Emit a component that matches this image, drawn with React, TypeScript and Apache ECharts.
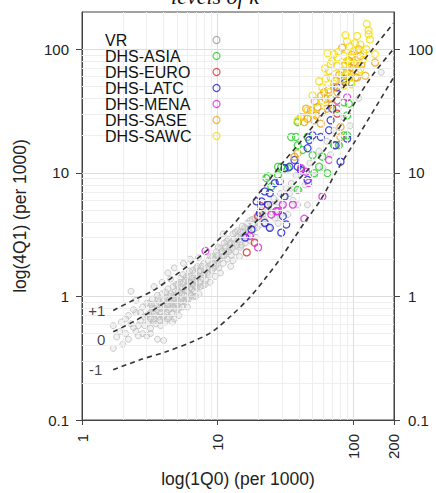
import React, { useEffect, useRef } from "react";
import * as echarts from "echarts";

// ---- tick / grid values ----
const xTickValues = [1, 10, 100, 200];
const yTickValues = [0.1, 1, 10, 100];
const xMinorGrid = [2, 3, 4, 5, 6, 7, 8, 9, 20, 30, 40, 50, 60, 70, 80, 90];
const xMajorGrid = [10, 100];
const yMinorGrid = [0.2, 0.3, 0.4, 0.5, 0.6, 0.7, 0.8, 0.9, 2, 3, 4, 5, 6, 7, 8, 9, 20, 30, 40, 50, 60, 70, 80, 90];
const yMajorGrid = [1, 10, 100];

// ---- model curves for k = +1, 0, -1 ----
const curveKPlus1 = [[1.7, 0.77], [2.38, 0.93], [3.33, 1.11], [4.65, 1.43], [6.51, 1.88], [9.1, 2.56], [12.7, 3.7], [16.9, 5.33], [21.7, 7.57], [29.3, 11.6], [39.0, 16.7], [54.5, 26.5], [76.3, 42.2], [119, 80.4], [198, 162]];
const curveK0 = [[1.7, 0.517], [2.38, 0.622], [3.33, 0.771], [4.65, 0.987], [6.51, 1.3], [9.1, 1.77], [12.7, 2.56], [17.8, 3.7], [24.9, 5.36], [36.9, 8.15], [57.7, 13.9], [85.4, 26.5], [133, 57.7], [198, 100]];
const curveKMinus1 = [[1.7, 0.255], [2.66, 0.306], [4.17, 0.357], [6.51, 0.43], [9.1, 0.517], [12.7, 0.703], [16.9, 0.957], [22.3, 1.38], [29.5, 2.07], [36.9, 2.99], [43.6, 3.94], [57.7, 6.06], [76.3, 10.5], [101, 17.3], [198, 58.7]];
const curveLabels = ["+1", "0", "-1"];

// ---- observed points: [1Q0, 4Q1] per 1000 ----
const vrPoints = [
  [1.7, 0.58], [1.7, 0.38], [1.8, 0.47], [1.95, 0.62], [2.1, 0.5], [2.2, 0.7], [2.3, 1.1], [2.4, 0.56], [2.5, 0.74], [2.6, 0.48], [2.7, 0.64], [2.8, 0.82], [2.9, 0.58], [3.0, 0.7], [3.0, 0.48], [2.2, 0.45],
  [1.9, 0.52], [2.0, 0.41], [2.1, 0.66], [2.3, 0.6], [2.4, 0.78], [2.5, 0.52], [2.6, 0.58], [2.7, 0.74], [2.8, 0.5], [2.9, 0.68], [3.0, 0.88], [2.5, 0.93],
  [3.1, 0.62], [3.1, 0.88], [3.2, 0.74], [3.2, 0.55], [3.3, 0.8], [3.3, 0.95], [3.4, 0.66], [3.4, 0.72], [3.5, 0.86], [3.5, 0.6], [3.6, 0.78], [3.6, 1.02], [3.7, 0.68], [3.7, 0.9], [3.8, 0.74], [3.8, 0.58], [3.9, 0.84], [3.9, 1.05], [4.0, 0.7], [4.0, 0.92], [4.1, 0.8], [4.1, 0.62], [4.2, 0.98], [4.2, 0.74], [4.3, 0.86], [4.3, 1.15], [4.4, 0.68], [4.4, 0.94], [4.5, 0.8], [4.5, 1.05], [4.6, 0.72], [4.6, 0.9], [4.7, 1.2], [4.7, 0.84], [4.8, 0.98], [4.8, 0.66], [4.9, 0.88], [4.9, 1.1], [5.0, 0.78], [5.0, 1.0], [3.6, 0.45], [4.0, 0.44], [4.3, 1.55], [4.8, 1.7],
  [3.1, 0.72], [3.2, 0.66], [3.25, 0.86], [3.35, 0.62], [3.45, 0.8], [3.55, 0.7], [3.65, 0.95], [3.75, 0.64], [3.85, 0.8], [3.95, 0.68], [4.05, 0.86], [4.15, 1.08], [4.25, 0.66], [4.35, 0.78], [4.45, 1.0], [4.55, 0.88], [4.65, 0.62], [4.75, 1.02], [4.85, 0.8], [4.95, 1.25], [3.4, 1.2], [3.9, 1.3], [4.5, 1.38], [3.2, 0.5],
  [5.1, 0.92], [5.1, 1.25], [5.2, 0.8], [5.3, 1.08], [5.3, 1.4], [5.4, 0.95], [5.5, 1.15], [5.5, 0.82], [5.6, 1.3], [5.7, 1.02], [5.8, 1.2], [5.8, 0.9], [5.9, 1.45], [6.0, 1.1], [6.1, 0.95], [6.1, 1.3], [6.2, 1.6], [6.3, 1.18], [6.4, 1.02], [6.5, 1.4], [6.6, 1.25], [6.7, 1.1], [6.8, 1.55], [6.9, 1.32], [7.0, 1.18], [7.1, 1.75], [7.2, 1.45], [7.3, 1.05], [7.4, 1.3], [7.5, 1.62], [7.7, 1.4], [7.8, 1.22], [7.9, 1.85], [8.0, 1.55], [8.2, 1.35], [8.3, 1.7], [8.5, 1.95], [8.6, 1.5], [8.8, 1.3], [8.9, 1.8], [5.6, 1.85], [6.3, 2.0], [5.2, 0.7],
  [5.05, 0.86], [5.15, 1.1], [5.25, 1.3], [5.35, 0.9], [5.45, 1.05], [5.55, 1.5], [5.65, 0.92], [5.75, 1.12], [5.85, 1.35], [5.95, 0.95], [6.05, 1.22], [6.15, 1.45], [6.25, 1.05], [6.35, 1.3], [6.45, 1.15], [6.55, 1.62], [6.65, 1.0], [6.75, 1.35], [6.85, 1.2], [6.95, 1.7], [7.05, 1.4], [7.25, 1.6], [7.45, 1.2], [7.65, 1.75], [7.85, 1.5], [8.1, 1.25], [8.4, 1.55], [8.7, 1.7], [8.9, 2.1], [7.2, 2.05], [6.0, 0.82], [6.9, 1.0],
  [9.1, 1.62], [9.2, 2.1], [9.4, 1.85], [9.6, 1.45], [9.8, 2.3], [10.0, 1.95], [10.2, 1.7], [10.5, 2.45], [10.7, 2.1], [11.0, 1.85], [11.2, 2.7], [11.5, 2.3], [11.8, 2.0], [12.0, 2.9], [12.3, 2.5], [12.6, 2.15], [13.0, 3.2], [13.3, 2.7], [13.6, 2.3], [14.0, 3.4], [14.4, 2.9], [14.8, 2.5], [15.2, 3.7], [15.6, 3.1], [16.0, 2.7], [16.5, 3.9], [17.0, 3.3], [17.5, 2.8], [18.0, 4.2], [18.6, 3.5], [19.2, 3.0], [19.8, 4.5], [10.5, 1.55], [12.5, 1.75], [14.5, 2.1],
  [9.3, 1.7], [9.5, 2.0], [9.7, 1.75], [9.9, 2.15], [10.1, 2.5], [10.4, 2.0], [10.8, 2.3], [11.1, 2.1], [11.4, 2.5], [11.7, 2.8], [12.1, 2.3], [12.4, 2.7], [12.8, 2.45], [13.2, 2.9], [13.5, 3.3], [13.9, 2.6], [14.2, 3.0], [14.7, 3.3], [15.0, 2.6], [15.4, 3.3], [15.9, 3.6], [16.3, 3.0], [16.8, 3.5], [17.3, 4.1], [17.8, 3.2], [18.3, 3.8], [18.9, 4.3], [19.5, 3.6], [11.0, 3.2], [13.0, 1.95],
  [20.5, 3.8], [21, 5.0], [22, 4.2], [23, 5.5], [24, 3.6], [25, 4.8], [26, 6.2], [27, 5.0], [28, 3.9], [29, 6.8], [30, 5.4], [32, 7.5], [33, 4.6], [35, 8.2], [36, 6.0], [38, 9.5], [40, 7.2], [42, 11], [44, 8.0], [46, 5.5],
  [20.2, 4.2], [21.5, 4.6], [22.5, 3.8], [23.5, 4.9], [24.5, 5.6], [26.5, 4.3], [27.5, 5.8], [29.5, 4.6], [31, 6.4], [34, 6.8], [37, 7.5], [39, 5.5],
  [48, 12], [52, 9.5], [56, 15], [60, 11], [64, 18], [68, 14], [72, 22], [78, 17], [85, 28], [95, 24], [110, 40], [161, 65],
];
const asiaPoints = [[95.4, 53.9], [85.4, 37.2], [92.9, 36.2], [76.3, 33], [90.3, 29.1], [39, 25.7], [37.9, 19.5], [46.1, 19.5], [85.4, 20.1], [72.3, 16.7], [78.5, 16.7], [59.3, 13.5], [64.5, 9.93], [56.1, 11.2], [51.6, 9.93], [29.5, 11.2], [33, 10.9], [27.9, 9.62], [22.9, 9.05], [39, 7.29], [24.9, 7.75], [23.6, 9.33], [31.2, 10.9], [34.9, 19.5], [39, 16.7], [50.2, 13.9], [90.3, 20.1], [42.4, 15.3], [27.9, 11.2]];
const euroPoints = [[16.4, 2.27], [18.8, 2.72], [21, 5.36], [19.9, 4.45], [76.3, 30.1]];
const latcPoints = [[85.4, 57.4], [87.7, 53.9], [76.3, 49.1], [70.2, 33], [68.2, 26.6], [66.4, 22.1], [57.7, 19.5], [50.2, 20.1], [47.5, 18.4], [90.3, 18.9], [46.1, 15.8], [74.2, 16.7], [80.7, 12.3], [39, 11.2], [33.9, 11.2], [36.9, 12.7], [31.2, 10.9], [28.7, 8.5], [26.4, 8.25], [41.2, 10.5], [46.1, 8.77], [24.3, 6.86], [22.3, 7.07], [21.1, 5.87], [19.4, 5.87], [20.5, 4.74], [30.3, 4.45], [23.6, 5.53], [22.3, 3.94], [24.3, 3.59], [32.1, 3.82], [29.5, 3.28], [17.8, 3.48], [16, 2.99], [31.2, 6.44]];
const menaPoints = [[8.14, 2.33], [17.3, 3.08], [19.9, 2.49], [24.9, 4.6], [27.9, 4.89], [30.3, 5.53], [35.9, 5.53], [41.2, 10.9], [44.8, 10.2], [66.4, 12.7], [59.3, 6.44], [43.6, 4.25], [76.3, 38.4], [90.3, 40.8], [27.1, 4.89], [47, 8.3]];
const sasePoints = [[83, 103], [110, 99.8], [113, 88.2], [92.9, 80.4], [101, 78], [85.4, 73.3], [95.4, 71.1], [104, 59], [123, 61], [145, 78], [74.2, 55.6], [85.4, 55.6], [72.3, 49.1], [76.3, 44.8], [61.1, 44.8], [62.7, 39.7], [68.2, 39.7], [54.6, 34], [48.8, 31.9], [53.1, 29.1], [59.3, 31], [46.1, 27.4], [41.2, 28.2], [43.6, 25.7], [51.6, 26.6], [57.7, 25], [36.9, 13.5], [39, 14.4], [80.7, 23.5], [80.7, 19.5], [107, 59], [66, 47], [58, 42], [70, 36], [64, 33], [100, 70], [115, 75], [90, 65], [79, 62], [52, 38], [45, 33], [98, 90]];
const sawcPoints = [[126, 160], [130, 132], [87.7, 130], [107, 128], [133, 120], [64.5, 92.7], [72.3, 91], [85.4, 88.2], [101, 96.8], [119, 93.8], [145, 91], [68.2, 75.7], [76.3, 73.3], [90.3, 80.4], [107, 75.7], [66.4, 66.8], [74.2, 62.9], [83, 66.8], [95.4, 66.8], [113, 69], [68.2, 59], [80.7, 57.4], [92.9, 59], [72.3, 52.3], [85.4, 50.7], [59.3, 49.1], [66.4, 44.8], [50.2, 42.2], [53.1, 37.2], [59.3, 38.4], [46.1, 31.9], [50.2, 30.1], [43.6, 28.2], [39, 26.6], [76.3, 85.5], [87.7, 75.7], [98.2, 85.5], [113, 109], [130, 142], [90, 116], [62, 70], [70, 80], [78, 95], [95, 105], [103, 112], [118, 82], [125, 100], [56, 55], [63, 58], [97, 52], [110, 65], [88, 62]];

const groupNames = ["VR", "DHS-ASIA", "DHS-EURO", "DHS-LATC", "DHS-MENA", "DHS-SASE", "DHS-SAWC"];
const groupColors = ["#a8a8a8", "#22cc22", "#e02828", "#1c1cd8", "#dd22dd", "#eaa21a", "#f5dc00"];

const FONT = '"Liberation Sans", Arial, sans-serif';

export default function App() {
  const ref = useRef<HTMLDivElement>(null);
  useEffect(() => {
    document.body.style.margin = "0";
    if (!ref.current) return;
    const chart = echarts.init(ref.current, null, { renderer: "svg" });
    const fmt = (v: number) => {
      const r = Math.round(v * 1000) / 1000;
      return String(r);
    };
    const colored = [asiaPoints, euroPoints, latcPoints, menaPoints, sasePoints, sawcPoints];
    const series: any[] = [
      {
        type: "scatter",
        name: "__grid",
        data: [[1, 0.1]],
        symbolSize: 0,
        silent: true,
        z: 0,
        markLine: {
          silent: true,
          symbol: ["none", "none"],
          label: { show: false },
          animation: false,
          data: [
            ...xMinorGrid.map((v) => ({ xAxis: v, lineStyle: { color: "#eeeeee", width: 1, type: "solid" } })),
            ...yMinorGrid.map((v) => ({ yAxis: v, lineStyle: { color: "#eeeeee", width: 1, type: "solid" } })),
            ...xMajorGrid.map((v) => ({ xAxis: v, lineStyle: { color: "#dddddd", width: 1, type: "solid" } })),
            ...yMajorGrid.map((v) => ({ yAxis: v, lineStyle: { color: "#dddddd", width: 1, type: "solid" } })),
          ],
        },
      },
      {
        type: "scatter",
        name: groupNames[0],
        data: vrPoints,
        symbol: "circle",
        symbolSize: 6,
        z: 2,
        itemStyle: { color: "rgba(200,200,200,0.3)", borderColor: "#bdbdbd", borderWidth: 1 },
      },
      ...colored.map((pts, i) => ({
        type: "scatter",
        name: groupNames[i + 1],
        data: pts,
        symbol: "circle",
        symbolSize: 7,
        z: 3,
        itemStyle: { color: "rgba(0,0,0,0)", borderColor: groupColors[i + 1], borderWidth: 1.3 },
      })),
      ...[curveKPlus1, curveK0, curveKMinus1].map((c, i) => ({
        type: "line",
        name: "k" + curveLabels[i],
        data: c,
        showSymbol: false,
        smooth: 0.3,
        z: 5,
        lineStyle: { color: "#333333", width: 1.6, type: [5, 4] },
      })),
      {
        type: "scatter",
        name: "__labels",
        symbolSize: 0,
        silent: true,
        z: 6,
        data: [curveKPlus1[0], curveK0[0], curveKMinus1[0]].map((p, i) => ({
          value: [p[0], p[1]],
          label: {
            show: true,
            position: "left",
            distance: i === 2 ? 11 : 8,
            offset: i === 1 ? [0, 8] : [0, 0],
            formatter: curveLabels[i],
            fontSize: 15,
            color: "#111",
            fontFamily: FONT,
          },
        })),
      },
    ];

    const legendData = groupNames.map((n, i) => ({
      name: n,
      icon: "circle",
      itemStyle: { color: "rgba(0,0,0,0)", borderColor: i === 0 ? "#999999" : groupColors[i], borderWidth: 1.2 },
    }));

    chart.setOption({
      animation: false,
      textStyle: { fontFamily: FONT },
      grid: { left: 82, right: 39, top: 12, bottom: 71, show: true, borderColor: "#444", borderWidth: 1, backgroundColor: "transparent" },
      graphic: [
        {
          type: "text",
          x: 215,
          y: 7,
          silent: true,
          style: {
            text: "levels of k",
            fontFamily: '"Liberation Serif", serif',
            fontStyle: "italic",
            fontSize: 22,
            fill: "#111",
            align: "center",
            verticalAlign: "bottom",
          },
        },
      ],
      legend: {
        orient: "vertical",
        left: 105,
        top: 32,
        padding: 0,
        align: "right",
        itemGap: 0,
        itemWidth: 7,
        itemHeight: 7,
        selectedMode: false,
        z: 10,
        data: legendData,
        formatter: (name: string) => "{a|" + name + "}",
        textStyle: {
          fontSize: 16,
          color: "#111",
          lineHeight: 16,
          rich: { a: { width: 103, align: "left", fontSize: 16, lineHeight: 16, color: "#111", fontFamily: FONT } },
        },
      },
      xAxis: {
        type: "log",
        logBase: 10,
        min: 1,
        max: 200,
        name: "log(1Q0) (per 1000)",
        nameLocation: "middle",
        nameGap: 50,
        nameTextStyle: { fontSize: 17.5, color: "#222", fontFamily: FONT },
        axisLine: { show: true, lineStyle: { color: "#444", width: 1 } },
        axisTick: { show: true, length: 5, lineStyle: { color: "#444" }, customValues: xTickValues },
        axisLabel: { rotate: 90, margin: 14, fontSize: 15, color: "#222", formatter: fmt, customValues: xTickValues, showMinLabel: true, showMaxLabel: true },
        splitLine: { show: false },
      },
      yAxis: [
        {
          type: "log",
          logBase: 10,
          min: 0.1,
          max: 200,
          position: "left",
          name: "log(4Q1) (per 1000)",
          nameLocation: "middle",
          nameGap: 53,
          nameTextStyle: { fontSize: 17.5, color: "#222", fontFamily: FONT },
          axisLine: { show: true, lineStyle: { color: "#444", width: 1 } },
          axisTick: { show: true, length: 6, lineStyle: { color: "#444" }, customValues: yTickValues },
          axisLabel: { margin: 13, fontSize: 15, color: "#222", formatter: fmt, customValues: yTickValues },
          splitLine: { show: false },
        },
        {
          type: "log",
          logBase: 10,
          min: 0.1,
          max: 200,
          position: "right",
          axisLine: { show: true, lineStyle: { color: "#444", width: 1 } },
          axisTick: { show: true, length: 6, lineStyle: { color: "#444" }, customValues: yTickValues },
          axisLabel: { margin: 14, fontSize: 15, color: "#222", formatter: fmt, customValues: yTickValues },
          splitLine: { show: false },
        },
      ],
      series,
    });
    return () => chart.dispose();
  }, []);
  return <div ref={ref} style={{ width: 436, height: 493 }} />;
}
